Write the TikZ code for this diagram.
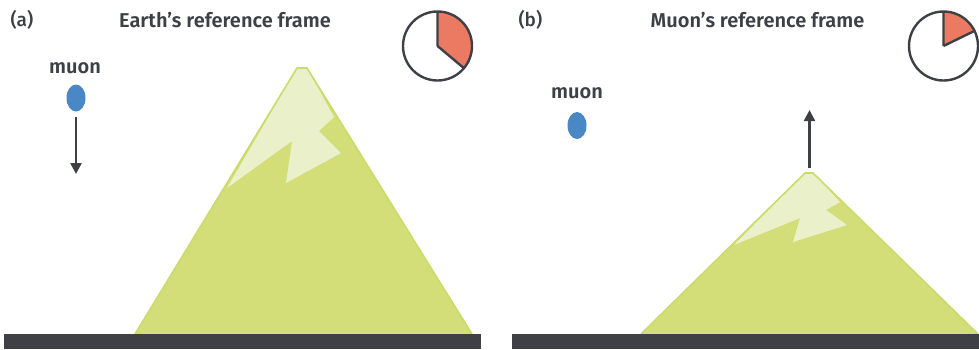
\documentclass[tikz,border=0pt]{standalone}
\usepackage{fontspec}
\setmainfont{Fira Sans}[UprightFont=* Medium,BoldFont=* SemiBold]
\usetikzlibrary{arrows.meta,shapes.geometric}
\definecolor{Ink}{HTML}{3E4046}
\definecolor{Hill}{HTML}{D3DE78}
\definecolor{HillEdge}{HTML}{CBDB6B}
\definecolor{Snow}{HTML}{E9F0CA}
\definecolor{Muon}{HTML}{4A87C5}
\definecolor{Slice}{HTML}{EA7A62}
\tikzset{
  panel/.style={Ink,font=\fontsize{19}{22}\selectfont},
  title/.style={panel,font=\fontsize{20}{23}\selectfont\bfseries},
  particle/.style={ellipse,fill=Muon,minimum width=19pt,minimum height=27pt,inner sep=0pt},
  motion/.style={-{Triangle[length=11pt,width=11pt]},line width=2.4pt,Ink},
  ground/.style={fill=Ink},
  dial/.style={draw=Ink,line width=2.4pt,line join=round}
}
\begin{document}
\begin{tikzpicture}[x=1pt,y=1pt]
  \useasboundingbox (0,0) rectangle (979,-349);
  % (a) earth frame
  \node[panel,anchor=west](la)at(7,-20){(a)};
  \node[title](ta)at(225,-20){Earth’s reference frame};
  \fill[Hill](135,-334)--(297,-68)--(307,-68)--(472,-334)--cycle;
  \fill[Snow](227,-188)--(292,-141)--(286,-183)--(341,-153)--(319,-131)--(334,-117)--(307,-68)--(297,-68)--cycle;
  \draw[HillEdge,line width=1.6pt,line join=round](135,-334)--(297,-68)--(307,-68)--(472,-334);
  \node[title](ma)at(75,-68){muon};
  \node[particle](pa)at(76,-98){};
  \coordinate(ea)at(76,-174);
  \draw[motion]([yshift=-5pt]pa.south)--(ea);
  \fill[Slice](437.5,-46)--++(90:34.5)arc[start angle=90,end angle=-40,radius=34.5]--cycle;
  \draw[dial](437.5,-46)circle[radius=34.5];
  \draw[dial](437.5,-46)--++(90:34.5) (437.5,-46)--++(-40:34.5);
  \fill[ground](4,-334)rectangle(481,-349);
  % (b) muon frame
  \node[panel,anchor=west](lb)at(515,-20){(b)};
  \node[title](tb)at(757.5,-20){Muon’s reference frame};
  \fill[Hill](641,-334)--(805,-173)--(813,-173)--(978,-334)--cycle;
  \fill[Snow](734,-245)--(800,-218)--(793,-242)--(847,-225)--(826,-210)--(840,-202)--(813,-173)--(805,-173)--cycle;
  \draw[HillEdge,line width=1.6pt,line join=round](641,-334)--(805,-173)--(813,-173)--(978,-334);
  \node[title](mb)at(577,-93){muon};
  \node[particle](pb)at(577,-125.5){};
  \coordinate(sb)at(809.5,-168);
  \coordinate(eb)at(809.5,-110);
  \draw[motion](sb)--(eb);
  \fill[Slice](943.5,-46)--++(90:34.5)arc[start angle=90,end angle=26,radius=34.5]--cycle;
  \draw[dial](943.5,-46)circle[radius=34.5];
  \draw[dial](943.5,-46)--++(90:34.5) (943.5,-46)--++(26:34.5);
  \fill[ground](512,-334)rectangle(979,-349);
\end{tikzpicture}
\end{document}
